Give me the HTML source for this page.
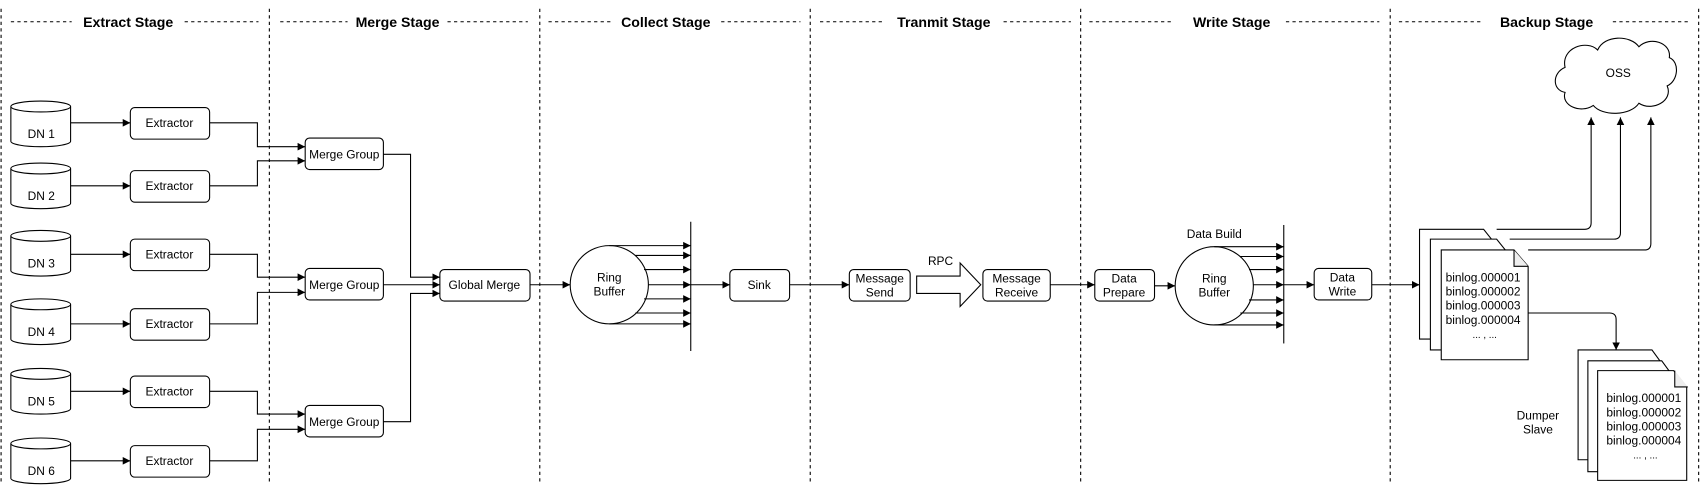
<!DOCTYPE html>
<html><head><meta charset="utf-8"><style>html,body{margin:0;padding:0;background:#fff}svg{display:block}</style></head>
<body>
<svg width="1703" height="488" viewBox="0 0 1568 449" preserveAspectRatio="none" xmlns="http://www.w3.org/2000/svg" font-family="Liberation Sans, sans-serif" font-size="11">
<defs><marker id="a" markerWidth="8" markerHeight="8" refX="7" refY="4" orient="auto" markerUnits="userSpaceOnUse"><path d="M0,0.5 L7,4 L0,7.5 Z" fill="#000"/></marker></defs>
<g stroke="#000" stroke-width="1" stroke-dasharray="3,3" fill="none">
<line x1="1" y1="8" x2="1" y2="446"/><line x1="248" y1="8" x2="248" y2="446"/><line x1="497" y1="8" x2="497" y2="446"/><line x1="746" y1="8" x2="746" y2="446"/><line x1="995" y1="8" x2="995" y2="446"/><line x1="1280" y1="8" x2="1280" y2="446"/><line x1="1564" y1="8" x2="1564" y2="446"/>
<line x1="10" y1="20" x2="66" y2="20"/><line x1="170" y1="20" x2="238" y2="20"/>
<line x1="258" y1="20" x2="320" y2="20"/><line x1="412" y1="20" x2="486" y2="20"/>
<line x1="505" y1="20" x2="562" y2="20"/><line x1="664" y1="20" x2="737" y2="20"/>
<line x1="755" y1="20" x2="815" y2="20"/><line x1="924" y1="20" x2="986" y2="20"/>
<line x1="1003" y1="20" x2="1080" y2="20"/><line x1="1184" y1="20" x2="1270" y2="20"/>
<line x1="1288" y1="20" x2="1364" y2="20"/><line x1="1485" y1="20" x2="1555" y2="20"/>
</g>
<g font-weight="bold" font-size="13" text-anchor="middle">
<text x="118" y="25">Extract Stage</text><text x="366" y="25">Merge Stage</text><text x="613" y="25">Collect Stage</text><text x="869" y="25">Tranmit Stage</text><text x="1134" y="25">Write Stage</text><text x="1424" y="25">Backup Stage</text>
</g>
<g stroke="#000" fill="#fff">
<g id="c"></g>
</g>
<g stroke="#000" fill="#fff">
<path d="M10,98 v32 a27.5,5 0 0 0 55,0 v-32 a27.5,5 0 0 0 -55,0 a27.5,5 0 0 0 55,0"/>
<path d="M10,155 v32 a27.5,5 0 0 0 55,0 v-32 a27.5,5 0 0 0 -55,0 a27.5,5 0 0 0 55,0"/>
<path d="M10,217 v32 a27.5,5 0 0 0 55,0 v-32 a27.5,5 0 0 0 -55,0 a27.5,5 0 0 0 55,0"/>
<path d="M10,280 v32 a27.5,5 0 0 0 55,0 v-32 a27.5,5 0 0 0 -55,0 a27.5,5 0 0 0 55,0"/>
<path d="M10,344 v32 a27.5,5 0 0 0 55,0 v-32 a27.5,5 0 0 0 -55,0 a27.5,5 0 0 0 55,0"/>
<path d="M10,408 v32 a27.5,5 0 0 0 55,0 v-32 a27.5,5 0 0 0 -55,0 a27.5,5 0 0 0 55,0"/>
<rect x="120" y="99" width="73" height="29" rx="4"/><rect x="120" y="157" width="73" height="29" rx="4"/><rect x="120" y="220" width="73" height="29" rx="4"/><rect x="120" y="284" width="73" height="29" rx="4"/><rect x="120" y="346" width="73" height="29" rx="4"/><rect x="120" y="410" width="73" height="29" rx="4"/>
<rect x="281" y="127" width="72" height="29" rx="4"/><rect x="281" y="247" width="72" height="29" rx="4"/><rect x="281" y="373" width="72" height="29" rx="4"/>
<rect x="405" y="248" width="83" height="29" rx="4"/>
<circle cx="561" cy="262" r="36"/>
<rect x="672" y="248" width="55" height="29" rx="4"/>
<rect x="782" y="248" width="56" height="29" rx="4"/>
<rect x="905" y="248" width="62" height="29" rx="4"/>
<rect x="1008" y="248" width="55" height="29" rx="4"/>
<circle cx="1118" cy="263" r="36"/>
<rect x="1210" y="247" width="53" height="29" rx="4"/>
<path d="M844,254 h40 v-12 l19,20 l-19,20 v-12 h-40 z"/>
<path d="M1453,322 h68 l11,15 v86 h-79 z"/><path d="M1462,332 h68 l11,15 v87 h-79 z"/><path d="M1471,341 h70 l12,15 v86 h-82 z"/>
<path d="M1542,341 v15 h12" fill="#eee"/>
<path d="M1441,62 c-4,-18 20,-26 30,-16 c6,-14 30,-14 38,-3 c10,-10 30,-4 28,10 c10,4 8,22 -2,26 c6,14 -14,24 -26,16 c-8,12 -34,12 -42,2 c-12,8 -30,0 -26,-12 c-12,-2 -12,-18 0,-23 z"/>
</g>
<g stroke="#000" fill="#fff">
<path d="M1307,211 h59 l12,15 v86 h-71 z"/><path d="M1317,220 h61 l12,15 v87 h-73 z"/><path d="M1327,230 h67 l13,15 v86 h-80 z"/>
<path d="M1394,230 v15 h13" fill="#eee"/>
</g>
<g stroke="#000" fill="none" marker-end="url(#a)">
<line x1="65" y1="113" x2="120" y2="113"/><line x1="65" y1="171" x2="120" y2="171"/><line x1="65" y1="234" x2="120" y2="234"/><line x1="65" y1="298" x2="120" y2="298"/><line x1="65" y1="360" x2="120" y2="360"/><line x1="65" y1="424" x2="120" y2="424"/>
<path d="M193,113 H237 V135 H281"/><path d="M193,171 H237 V148 H281"/>
<path d="M193,234 H237 V255 H281"/><path d="M193,298 H237 V269 H281"/>
<path d="M193,360 H237 V381 H281"/><path d="M193,424 H237 V395 H281"/>
<path d="M353,142 H378 V255 H405"/><path d="M353,262 H405"/><path d="M353,388 H378 V270 H405"/>
<path d="M488,262 H525"/>
<path d="M561,226 H636"/><path d="M585,235 H636"/><path d="M593,248 H636"/><path d="M597,262 H636"/><path d="M593,275 H636"/><path d="M585,288 H636"/><path d="M561,298 H636"/>
<path d="M636,262 H672"/><path d="M727,262 H782"/><path d="M967,262 H1008"/><path d="M1063,263 H1082"/>
<path d="M1118,227 H1182"/><path d="M1142,236 H1182"/><path d="M1150,248 H1182"/><path d="M1154,262 H1182"/><path d="M1150,276 H1182"/><path d="M1142,288 H1182"/><path d="M1118,299 H1182"/>
<path d="M1182,262 H1210"/><path d="M1263,262 H1307"/>
<path d="M1378,211 H1459 q6,0 6,-6 V108"/><path d="M1390,220 H1486 q6,0 6,-6 V108"/><path d="M1407,230 H1514 q6,0 6,-6 V108"/>
<path d="M1407,288 H1482 q6,0 6,6 V322"/>
</g>
<line x1="636" y1="204" x2="636" y2="323" stroke="#000"/>
<line x1="1182" y1="207" x2="1182" y2="316" stroke="#000"/>
<g text-anchor="middle">
<text x="38" y="127">DN 1</text><text x="38" y="184">DN 2</text><text x="38" y="246">DN 3</text><text x="38" y="309">DN 4</text><text x="38" y="373">DN 5</text><text x="38" y="437">DN 6</text>
<text x="156" y="117">Extractor</text><text x="156" y="175">Extractor</text><text x="156" y="238">Extractor</text><text x="156" y="302">Extractor</text><text x="156" y="364">Extractor</text><text x="156" y="428">Extractor</text>
<text x="317" y="146">Merge Group</text><text x="317" y="266">Merge Group</text><text x="317" y="392">Merge Group</text>
<text x="446" y="266">Global Merge</text>
<text x="561" y="259">Ring</text><text x="561" y="272">Buffer</text>
<text x="699" y="266">Sink</text>
<text x="810" y="260">Message</text><text x="810" y="273">Send</text>
<text x="866" y="244">RPC</text>
<text x="936" y="260">Message</text><text x="936" y="273">Receive</text>
<text x="1035" y="260">Data</text><text x="1035" y="273">Prepare</text>
<text x="1118" y="219">Data Build</text>
<text x="1118" y="260">Ring</text><text x="1118" y="273">Buffer</text>
<text x="1236" y="259">Data</text><text x="1236" y="272">Write</text>
<text x="1490" y="71">OSS</text>
<text x="1416" y="386">Dumper</text><text x="1416" y="399">Slave</text>
</g>
<g>
<text x="1331" y="259">binlog.000001</text><text x="1331" y="272">binlog.000002</text><text x="1331" y="285">binlog.000003</text><text x="1331" y="298">binlog.000004</text><text x="1367" y="311" text-anchor="middle" font-size="9">... , ...</text>
<text x="1479" y="370">binlog.000001</text><text x="1479" y="383">binlog.000002</text><text x="1479" y="396">binlog.000003</text><text x="1479" y="409">binlog.000004</text><text x="1515" y="422" text-anchor="middle" font-size="9">... , ...</text>
</g>
</svg>
</body></html>
